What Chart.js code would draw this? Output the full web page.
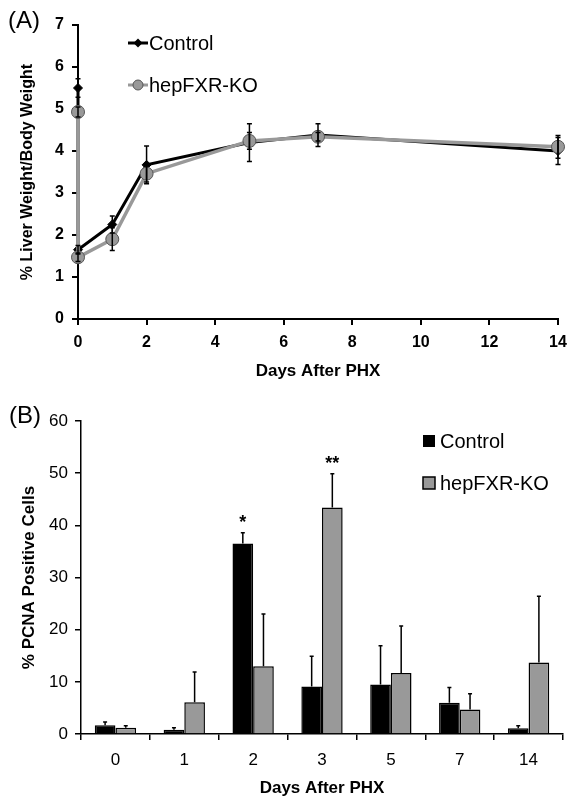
<!DOCTYPE html>
<html>
<head>
<meta charset="utf-8">
<script src="https://cdn.jsdelivr.net/npm/chart.js@4.4.0/dist/chart.umd.min.js"></script>
<style>
  body { margin: 0; background: #fff; }
  #wrap { position: relative; width: 577px; height: 811px; }
  canvas { position: absolute; left: 0; }
</style>
</head>
<body>
<div id="wrap">
  <canvas id="chartA" width="577" height="400" style="top:0px"></canvas>
  <canvas id="chartB" width="577" height="411" style="top:400px"></canvas>
</div>
<script>
// (A) liver weight / body weight (two points at day 0: before and right after PHX)
const daysA = [0, 0, 1, 2, 5, 7, 14];
const controlA = [5.5, 1.65, 2.25, 3.67, 4.2, 4.38, 4.0];
const controlAErr = [0.22, 0.1, 0.2, 0.45, 0.45, 0.27, 0.32];
const hepA = [4.93, 1.47, 1.9, 3.46, 4.24, 4.34, 4.1];
const hepAErr = [0.12, 0.1, 0.27, 0.2, 0.2, 0.1, 0.27];

// (B) PCNA positive cells
const daysB = ["0", "1", "2", "3", "5", "7", "14"];
const controlB = [1.7, 0.8, 36.5, 9.1, 9.5, 6.0, 1.1];
const controlBErr = [0.6, 0.4, 2.1, 5.8, 7.4, 2.9, 0.5];
const hepB = [1.2, 6.1, 13.0, 43.4, 11.7, 4.7, 13.7];
const hepBErr = [0.4, 5.8, 10.0, 6.5, 9.0, 3.0, 12.7];
const controlSig = ["", "", "*", "", "", "", ""];
const hepSig = ["", "", "", "**", "", "", ""];

const FONT = "'Liberation Sans', Arial, sans-serif";
const GRAY = "#999999";

// error bars: dataset.errors, dataset.errMode ("both" or "up")
const errorBars = {
  id: "errorBars",
  afterDatasetsDraw(chart) {
    const ctx = chart.ctx;
    const yScale = chart.scales.y;
    chart.data.datasets.forEach((ds, i) => {
      if (!ds.errors) return;
      const meta = chart.getDatasetMeta(i);
      ctx.save();
      ctx.strokeStyle = "#000";
      ctx.lineWidth = ds.errWidth || 1.5;
      meta.data.forEach((el, j) => {
        const raw = ds.data[j];
        const v = typeof raw === "object" ? raw.y : raw;
        const e = ds.errors[j];
        const top = yScale.getPixelForValue(v + e);
        const bottom = ds.errMode === "up" ? yScale.getPixelForValue(v) : yScale.getPixelForValue(v - e);
        const cap = ds.capSize || 2.5;
        ctx.beginPath();
        ctx.moveTo(el.x, top);
        ctx.lineTo(el.x, bottom);
        ctx.moveTo(el.x - cap, top);
        ctx.lineTo(el.x + cap, top);
        if (ds.errMode !== "up") {
          ctx.moveTo(el.x - cap, bottom);
          ctx.lineTo(el.x + cap, bottom);
        }
        ctx.stroke();
      });
      ctx.restore();
    });
  }
};

// panel A: "(A)" label and in-plot legend
const panelA = {
  id: "panelA",
  afterDraw(chart) {
    const ctx = chart.ctx;
    ctx.save();
    ctx.fillStyle = "#000";
    ctx.font = "24px " + FONT;
    ctx.textBaseline = "middle";
    ctx.fillText("(A)", 8, 21);
    ctx.font = "20px " + FONT;
    // Control
    ctx.strokeStyle = "#000";
    ctx.lineWidth = 3;
    ctx.beginPath(); ctx.moveTo(128, 43); ctx.lineTo(148, 43); ctx.stroke();
    ctx.beginPath();
    ctx.moveTo(138, 38.5); ctx.lineTo(142.5, 43); ctx.lineTo(138, 47.5); ctx.lineTo(133.5, 43);
    ctx.closePath(); ctx.fill();
    ctx.fillText("Control", 149, 44);
    // hepFXR-KO
    ctx.strokeStyle = GRAY;
    ctx.beginPath(); ctx.moveTo(128, 85); ctx.lineTo(148, 85); ctx.stroke();
    ctx.beginPath(); ctx.arc(138, 85, 5, 0, Math.PI * 2);
    ctx.fillStyle = GRAY; ctx.fill();
    ctx.lineWidth = 1; ctx.strokeStyle = "#555"; ctx.stroke();
    ctx.fillStyle = "#000";
    ctx.fillText("hepFXR-KO", 149, 86);
    ctx.restore();
  }
};

// panel B: "(B)" label, legend, significance marks
const panelB = {
  id: "panelB",
  afterDraw(chart) {
    const ctx = chart.ctx;
    const yScale = chart.scales.y;
    ctx.save();
    ctx.fillStyle = "#000";
    ctx.font = "24px " + FONT;
    ctx.textBaseline = "middle";
    ctx.fillText("(B)", 9, 16);
    ctx.font = "20px " + FONT;
    ctx.fillRect(423, 35, 12, 12);
    ctx.fillText("Control", 440, 42);
    ctx.fillStyle = GRAY;
    ctx.fillRect(423, 77, 12, 12);
    ctx.strokeStyle = "#000"; ctx.lineWidth = 1.5;
    ctx.strokeRect(423, 77, 12, 12);
    ctx.fillStyle = "#000";
    ctx.fillText("hepFXR-KO", 440, 84);
    // asterisks
    ctx.font = "bold 18px " + FONT;
    ctx.textAlign = "center";
    chart.data.datasets.forEach((ds, i) => {
      const meta = chart.getDatasetMeta(i);
      ds.sig.forEach((s, j) => {
        if (!s) return;
        const y = yScale.getPixelForValue(ds.data[j] + ds.errors[j]);
        ctx.fillText(s, meta.data[j].x, y - 10);
      });
    });
    ctx.restore();
  }
};

new Chart(document.getElementById("chartA"), {
  type: "scatter",
  data: {
    datasets: [
      {
        label: "Control",
        data: daysA.map((d, i) => ({ x: d, y: controlA[i] })),
        showLine: true,
        borderColor: "#000",
        backgroundColor: "#000",
        borderWidth: 3,
        pointStyle: "rectRot",
        pointRadius: 4.5,
        pointBorderWidth: 1,
        errors: controlAErr,
        errMode: "both",
        clip: false,
        order: 1
      },
      {
        label: "hepFXR-KO",
        data: daysA.map((d, i) => ({ x: d, y: hepA[i] })),
        showLine: true,
        borderColor: GRAY,
        backgroundColor: GRAY,
        borderWidth: 3.5,
        pointStyle: "circle",
        pointRadius: 6.5,
        pointBorderColor: "#555",
        pointBorderWidth: 1,
        errors: hepAErr,
        errMode: "both",
        clip: false,
        order: 0
      }
    ]
  },
  options: {
    responsive: false,
    animation: false,
    layout: { padding: { left: 0, right: 19, top: 25, bottom: 0 } },
    plugins: { legend: { display: false }, tooltip: { enabled: false } },
    scales: {
      x: {
        type: "linear",
        min: 0,
        max: 14,
        ticks: { stepSize: 2, color: "#000", padding: 8, font: { family: FONT, size: 16, weight: "bold" } },
        grid: { drawOnChartArea: false, tickLength: 6, color: "#000", lineWidth: 2 },
        border: { color: "#000", width: 2 },
        title: { display: true, text: "Days After PHX", color: "#000", padding: { top: 0, bottom: 18 },
                 font: { family: FONT, size: 17, weight: "bold" } },
        afterFit: (s) => { s.height = 81; }
      },
      y: {
        min: 0,
        max: 7,
        ticks: { stepSize: 1, color: "#000", padding: 8, font: { family: FONT, size: 16, weight: "bold" } },
        grid: { drawOnChartArea: false, tickLength: 6, color: "#000", lineWidth: 2 },
        border: { color: "#000", width: 2 },
        title: { display: true, text: "% Liver Weight/Body Weight", color: "#000", padding: { top: 18, bottom: 0 },
                 font: { family: FONT, size: 16, weight: "bold" } },
        afterFit: (s) => { s.width = 78; }
      }
    }
  },
  plugins: [errorBars, panelA]
});

new Chart(document.getElementById("chartB"), {
  type: "bar",
  data: {
    labels: daysB,
    datasets: [
      {
        label: "Control",
        data: controlB,
        backgroundColor: "#000",
        borderColor: "#000",
        borderWidth: 1.5,
        errors: controlBErr,
        errMode: "up",
        capSize: 2,
        sig: controlSig
      },
      {
        label: "hepFXR-KO",
        data: hepB,
        backgroundColor: GRAY,
        borderColor: "#000",
        borderWidth: 1.5,
        errors: hepBErr,
        errMode: "up",
        capSize: 2,
        sig: hepSig
      }
    ]
  },
  options: {
    responsive: false,
    animation: false,
    layout: { padding: { left: 0, right: 14, top: 21, bottom: 0 } },
    plugins: { legend: { display: false }, tooltip: { enabled: false } },
    datasets: { bar: { categoryPercentage: 0.6, barPercentage: 1.0 } },
    scales: {
      x: {
        ticks: { color: "#000", padding: 10, font: { family: FONT, size: 17 } },
        grid: { drawOnChartArea: false, tickLength: 6, color: "#000", lineWidth: 1.5, offset: true },
        border: { color: "#000", width: 1.5 },
        title: { display: true, text: "Days After PHX", color: "#000", padding: { top: 0, bottom: 12 },
                 font: { family: FONT, size: 17, weight: "bold" } },
        afterFit: (s) => { s.height = 77; }
      },
      y: {
        min: 0,
        max: 60,
        ticks: { stepSize: 10, color: "#000", padding: 7, font: { family: FONT, size: 17 } },
        grid: { drawOnChartArea: false, tickLength: 6, color: "#000", lineWidth: 1.5 },
        border: { color: "#000", width: 1.5 },
        title: { display: true, text: "% PCNA Positive Cells", color: "#000", padding: { top: 19, bottom: 0 },
                 font: { family: FONT, size: 17, weight: "bold" } },
        afterFit: (s) => { s.width = 81; }
      }
    }
  },
  plugins: [errorBars, panelB]
});
</script>
</body>
</html>
